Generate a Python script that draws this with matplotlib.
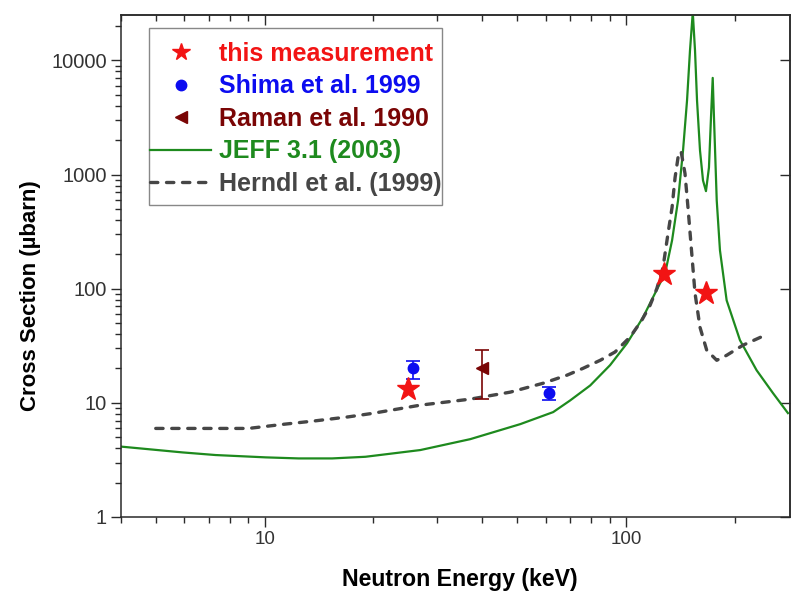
import matplotlib
matplotlib.use('Agg')
import matplotlib.pyplot as plt
from matplotlib.lines import Line2D
from matplotlib.patches import Rectangle
from matplotlib.ticker import FixedLocator, FixedFormatter, LogLocator, NullFormatter, NullLocator

plt.rcParams['font.family'] = ['Liberation Sans', 'DejaVu Sans']

# this measurement (keV, microbarn)
meas_e = [25.0, 127.6, 166.3]
meas_xs = [13.1, 135.6, 91.7]

# Shima et al. 1999
shima_e = [25.8, 61.3]
shima_xs = [20.0, 12.2]
shima_err_lo = [3.9, 1.6]
shima_err_hi = [3.3, 1.6]

# Raman et al. 1990
raman_e = [40.0]
raman_xs = [20.0]
raman_err_lo = [9.1]
raman_err_hi = [8.9]

# JEFF 3.1 (2003) evaluation
jeff_e = [4.00, 5.93, 7.32, 10.07, 12.42, 15.38, 19.01, 26.97, 37.07, 50.96,
          62.85, 70.02, 79.55, 90.3, 100.6, 111.4, 118.7, 124.1, 128.2, 134.0,
          139.2, 143.7, 147.4, 150.2, 152.9, 155.1, 157.1, 160.1, 163.2, 166.3,
          169.5, 171.7, 173.6, 175.0, 178.1, 181.8, 189.7, 206.5, 229.6, 254.7, 280.3]
jeff_xs = [4.14, 3.68, 3.49, 3.33, 3.26, 3.26, 3.37, 3.86, 4.81, 6.51,
           8.3, 10.5, 14.2, 21.4, 33.3, 56.2, 84.1, 111.5, 136.4, 265,
           593, 1625, 4449, 12180, 26360, 12180, 4449, 1625, 888, 716,
           1154, 3159, 7030, 3159, 593, 216.8, 79.1, 35.4, 19.3, 12.2, 8.13]

# Herndl et al. (1999)
herndl_e = [5.0, 6.66, 9.03, 11.19, 13.83, 17.06, 19.84, 26.97, 37.07, 47.8,
            59.0, 68.6, 76.1, 84.8, 93.2, 102.6, 110.5, 116.5, 121.6, 126.5,
            130.6, 134.0, 136.6, 139.2, 141.9, 145.5, 148.3, 151.9, 155.1, 160.1,
            167.1, 178.1, 189.7, 210.5, 242.1]
herndl_xs = [5.97, 5.97, 5.97, 6.47, 6.96, 7.54, 8.08, 9.55, 10.78, 12.41,
             14.87, 17.47, 20.1, 23.6, 27.9, 37.8, 52.9, 71.6, 100.2, 153.9,
             305, 515, 943, 1411, 1602, 1022, 515, 204, 91.2, 45.9,
             28.9, 23.6, 26.1, 32.0, 39.1]

labels = ['this measurement', 'Shima et al. 1999', 'Raman et al. 1990',
          'JEFF 3.1 (2003)', 'Herndl et al. (1999)']
x_ticks = [10, 100]
x_ticklabels = ['10', '100']
y_ticks = [1, 10, 100, 1000, 10000]
y_ticklabels = ['1', '10', '100', '1000', '10000']

red = '#f21414'
blue = '#0c0cf0'
darkred = '#7a0505'
green = '#1e8a1e'
gray = '#464646'
axcol = '#2a2a2a'

fig = plt.figure(figsize=(7.91, 6.01), dpi=100)
ax = fig.add_axes([120.7 / 791, 84 / 601, (790 - 120.7) / 791, 502 / 601])
ax.set_xscale('log')
ax.set_yscale('log')

ax.plot(jeff_e, jeff_xs, color=green, lw=1.6, zorder=2)
ax.plot(herndl_e, herndl_xs, color=gray, lw=2.4, dashes=(2.2, 2.6),
        dash_capstyle='round', zorder=3)

ax.errorbar(shima_e, shima_xs, yerr=[shima_err_lo, shima_err_hi], fmt='o',
            color=blue, ms=7.5, capsize=5, elinewidth=1.2, capthick=1.2, zorder=4)
ax.errorbar(raman_e, raman_xs, yerr=[raman_err_lo, raman_err_hi], fmt='<',
            color=darkred, ms=8, capsize=5, elinewidth=1.2, capthick=1.2, zorder=4)
ax.plot(meas_e, meas_xs, '*', color=red, ms=17, mec=red, zorder=5)

ax.set_xlim(4.0, 284)
ax.set_ylim(1, 25000)

ax.xaxis.set_major_locator(FixedLocator(x_ticks))
ax.xaxis.set_major_formatter(FixedFormatter(x_ticklabels))
ax.xaxis.set_minor_locator(LogLocator(base=10, subs=range(2, 10)))
ax.xaxis.set_minor_formatter(NullFormatter())
ax.yaxis.set_major_locator(FixedLocator(y_ticks))
ax.yaxis.set_major_formatter(FixedFormatter(y_ticklabels))
ax.yaxis.set_minor_locator(LogLocator(base=10, subs=range(2, 10)))
ax.yaxis.set_minor_formatter(NullFormatter())

ax.tick_params(which='major', direction='out', length=7, width=1.0,
               color=axcol, labelcolor='#333333', pad=3)
ax.tick_params(axis='x', which='major', labelsize=13.5)
ax.tick_params(axis='y', which='major', labelsize=14.5)
ax.tick_params(which='minor', direction='out', length=4, width=1.0, color=axcol)
for s in ax.spines.values():
    s.set_color(axcol)
    s.set_linewidth(1.1)

# mirrored ticks on top and right, pointing inward
top = ax.secondary_xaxis('top')
top.xaxis.set_major_locator(FixedLocator(x_ticks))
top.xaxis.set_minor_locator(LogLocator(base=10, subs=range(2, 10)))
top.tick_params(which='major', direction='in', length=7, width=1.0, color=axcol, labeltop=False)
top.tick_params(which='minor', direction='in', length=4, width=1.0, color=axcol)
top.spines['top'].set_color(axcol)
top.spines['top'].set_linewidth(1.1)

right = ax.secondary_yaxis('right')
right.yaxis.set_major_locator(FixedLocator(y_ticks))
right.yaxis.set_minor_locator(NullLocator())
right.tick_params(which='major', direction='in', length=7, width=1.0, color=axcol, labelright=False)
right.spines['right'].set_color(axcol)
right.spines['right'].set_linewidth(1.1)

ax.set_xlabel('Neutron Energy (keV)', fontsize=16.7, fontweight='bold')
ax.xaxis.set_label_coords(0.507, -0.101)
ax.set_ylabel('Cross Section (\u00b5barn)', fontsize=16, fontweight='bold')
ax.yaxis.set_label_coords(-0.119, 0.44)

# legend frame drawn separately so the line handles can touch its left edge
ax.add_patch(Rectangle((0.0423, 0.6215), 0.4377, 0.3525, transform=ax.transAxes,
                       facecolor='white', edgecolor='#888888', lw=1.0, zorder=6))
handles = [
    Line2D([], [], ls='none', marker='*', color=red, ms=13),
    Line2D([], [], ls='none', marker='o', color=blue, ms=7.5),
    Line2D([], [], ls='none', marker='<', color=darkred, ms=8),
    Line2D([], [], color=green, lw=1.6),
    Line2D([], [], color=gray, lw=2.4, dashes=(2.2, 2.6), dash_capstyle='round'),
]
leg = ax.legend(handles, labels, loc='upper left', bbox_to_anchor=(0.0438, 0.9466),
                borderaxespad=0, borderpad=0, frameon=False,
                prop={'weight': 'bold', 'size': 18}, handlelength=2.44,
                handletextpad=0.32, labelspacing=0.34)
leg.set_zorder(7)
for txt, col in zip(leg.get_texts(), [red, blue, darkred, green, gray]):
    txt.set_color(col)

fig.savefig('out.png', dpi=100)
